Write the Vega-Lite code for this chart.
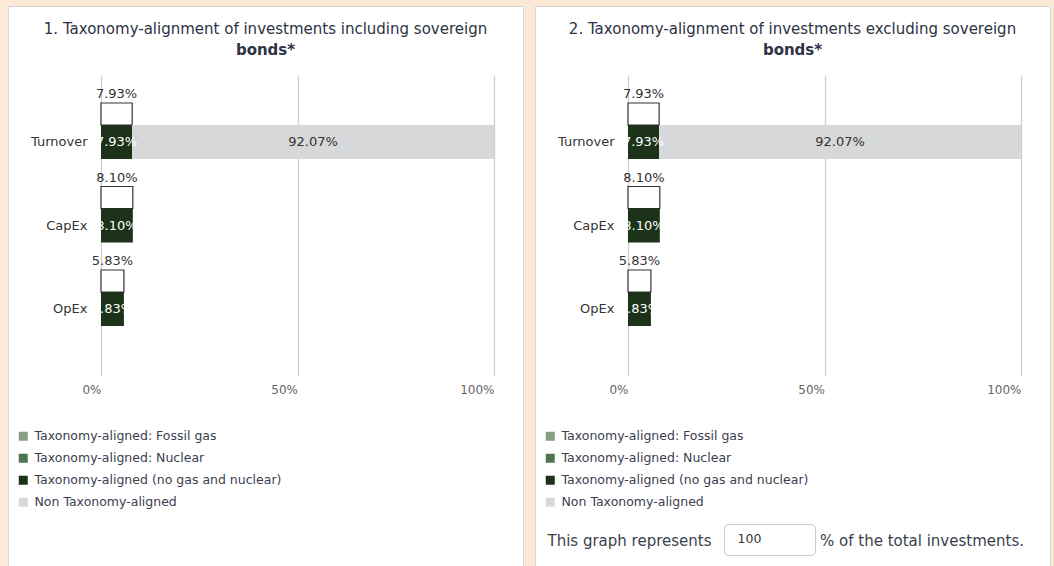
{
  "$schema": "https://vega.github.io/schema/vega-lite/v6.json",
  "background": "#fce9d6",
  "padding": {"left": 7, "top": 5, "right": 3, "bottom": 0},
  "autosize": {"type": "pad"},
  "spacing": 10,
  "datasets": {
    "incl": [
      {"metric": "Turnover", "series": "Taxonomy-aligned (no gas and nuclear)", "share": 0.0793},
      {"metric": "Turnover", "series": "Non Taxonomy-aligned", "share": 0.9207},
      {"metric": "CapEx", "series": "Taxonomy-aligned (no gas and nuclear)", "share": 0.081},
      {"metric": "OpEx", "series": "Taxonomy-aligned (no gas and nuclear)", "share": 0.0583}
    ],
    "excl": [
      {"metric": "Turnover", "series": "Taxonomy-aligned (no gas and nuclear)", "share": 0.0793, "coverage": "100"},
      {"metric": "Turnover", "series": "Non Taxonomy-aligned", "share": 0.9207, "coverage": "100"},
      {"metric": "CapEx", "series": "Taxonomy-aligned (no gas and nuclear)", "share": 0.081, "coverage": "100"},
      {"metric": "OpEx", "series": "Taxonomy-aligned (no gas and nuclear)", "share": 0.0583, "coverage": "100"}
    ]
  },
  "hconcat": [
    {
      "width": 515,
      "height": 560,
      "data": {"name": "incl"},
      "title": {"text": "1. Taxonomy-alignment of investments including sovereign", "subtitle": "bonds*"},
      "transform": [
        {"stack": "share", "groupby": ["metric"], "sort": [{"field": "series", "order": "descending"}], "as": ["v0", "v1"]}
      ],
      "encoding": {
        "y": {
          "field": "metric", "type": "nominal", "sort": ["Turnover", "CapEx", "OpEx"],
          "scale": {"range": [69, 370], "paddingInner": 0, "paddingOuter": 0.302},
          "axis": {"offset": -93, "domain": false, "ticks": false, "tickSize": 0, "grid": false, "labelPadding": 14, "labelFontSize": 13, "labelColor": "#333333", "title": null}
        }
      },
      "layer": [
        {
          "transform": [{"filter": "datum.series === 'Taxonomy-aligned (no gas and nuclear)'"}],
          "mark": {"type": "bar", "fill": "#ffffff", "stroke": "#333333", "strokeWidth": 1.2, "height": 22, "yOffset": -28},
          "encoding": {
            "x": {
              "field": "v0", "type": "quantitative",
              "scale": {"domain": [0, 1], "range": [93, 486], "nice": false},
              "axis": {"orient": "top", "offset": -383, "values": [0, 0.5, 1], "format": "%", "grid": true, "gridColor": "#cfcfcf", "gridWidth": 1.3, "domain": false, "ticks": false, "tickSize": 0, "labelPadding": 0, "labelBaseline": "middle", "labelAlign": "right", "labelFlush": false, "labelFontSize": 12, "labelColor": "#666666", "title": null}
            },
            "x2": {"field": "v1"}
          }
        },
        {
          "mark": {"type": "bar", "height": 34},
          "encoding": {
            "x": {
              "field": "v0", "type": "quantitative",
              "scale": {"domain": [0, 1], "range": [93, 486], "nice": false},
              "axis": {"orient": "top", "offset": -383, "values": [0, 0.5, 1], "format": "%", "grid": true, "gridColor": "#cfcfcf", "gridWidth": 1.3, "domain": false, "ticks": false, "tickSize": 0, "labelPadding": 0, "labelBaseline": "middle", "labelAlign": "right", "labelFlush": false, "labelFontSize": 12, "labelColor": "#666666", "title": null}
            },
            "x2": {"field": "v1"},
            "color": {
              "field": "series", "type": "nominal",
              "scale": {
                "domain": ["Taxonomy-aligned: Fossil gas", "Taxonomy-aligned: Nuclear", "Taxonomy-aligned (no gas and nuclear)", "Non Taxonomy-aligned"],
                "range": ["#889c86", "#4c7550", "#1c3319", "#d7d8da"]
              },
              "legend": {"orient": "none", "legendX": 9, "legendY": 424, "direction": "vertical", "title": null, "symbolType": "square", "symbolSize": 81, "symbolStrokeWidth": 0, "labelFontSize": 12.5, "labelColor": "#3b4050", "labelOffset": 5, "rowPadding": 9, "labelLimit": 400, "padding": 0}
            }
          }
        },
        {
          "mark": {"type": "text", "fontSize": 13, "baseline": "middle"},
          "encoding": {
            "x": {
              "field": "share", "type": "quantitative", "stack": "zero", "bandPosition": 0.5,
              "scale": {"domain": [0, 1], "range": [93, 486], "nice": false},
              "axis": {"orient": "top", "offset": -383, "values": [0, 0.5, 1], "format": "%", "grid": true, "gridColor": "#cfcfcf", "gridWidth": 1.3, "domain": false, "ticks": false, "tickSize": 0, "labelPadding": 0, "labelBaseline": "middle", "labelAlign": "right", "labelFlush": false, "labelFontSize": 12, "labelColor": "#666666", "title": null}
            },
            "detail": {"field": "series"},
            "order": {"field": "series", "sort": "descending"},
            "text": {"field": "share", "type": "quantitative", "format": ".2%"},
            "color": {"condition": {"test": "datum.series === 'Non Taxonomy-aligned'", "value": "#333333"}, "value": "#ffffff"}
          }
        },
        {
          "transform": [{"filter": "datum.series === 'Taxonomy-aligned (no gas and nuclear)'"}],
          "mark": {"type": "text", "fontSize": 13, "baseline": "alphabetic", "yOffset": -44, "color": "#333333"},
          "encoding": {
            "x": {
              "field": "share", "type": "quantitative", "stack": "zero", "bandPosition": 0.5,
              "scale": {"domain": [0, 1], "range": [93, 486], "nice": false},
              "axis": {"orient": "top", "offset": -383, "values": [0, 0.5, 1], "format": "%", "grid": true, "gridColor": "#cfcfcf", "gridWidth": 1.3, "domain": false, "ticks": false, "tickSize": 0, "labelPadding": 0, "labelBaseline": "middle", "labelAlign": "right", "labelFlush": false, "labelFontSize": 12, "labelColor": "#666666", "title": null}
            },
            "detail": {"field": "series"},
            "text": {"field": "share", "type": "quantitative", "format": ".2%"}
          }
        }
      ]
    },
    {
      "width": 515,
      "height": 560,
      "data": {"name": "excl"},
      "title": {"text": "2. Taxonomy-alignment of investments excluding sovereign", "subtitle": "bonds*"},
      "transform": [
        {"stack": "share", "groupby": ["metric"], "sort": [{"field": "series", "order": "descending"}], "as": ["v0", "v1"]}
      ],
      "encoding": {
        "y": {
          "field": "metric", "type": "nominal", "sort": ["Turnover", "CapEx", "OpEx"],
          "scale": {"range": [69, 370], "paddingInner": 0, "paddingOuter": 0.302},
          "axis": {"offset": -93, "domain": false, "ticks": false, "tickSize": 0, "grid": false, "labelPadding": 14, "labelFontSize": 13, "labelColor": "#333333", "title": "% of the total investments.", "titleX": 191.5, "titleY": 539, "titleAngle": 0, "titleAlign": "left", "titleBaseline": "alphabetic", "titleFontSize": 15, "titleFontWeight": "normal", "titleColor": "#3a3f4d"}
        }
      },
      "layer": [
        {
          "transform": [{"filter": "datum.series === 'Taxonomy-aligned (no gas and nuclear)'"}],
          "mark": {"type": "bar", "fill": "#ffffff", "stroke": "#333333", "strokeWidth": 1.2, "height": 22, "yOffset": -28},
          "encoding": {
            "x": {
              "field": "v0", "type": "quantitative",
              "scale": {"domain": [0, 1], "range": [93, 486], "nice": false},
              "axis": {"orient": "top", "offset": -383, "values": [0, 0.5, 1], "format": "%", "grid": true, "gridColor": "#cfcfcf", "gridWidth": 1.3, "domain": false, "ticks": false, "tickSize": 0, "labelPadding": 0, "labelBaseline": "middle", "labelAlign": "right", "labelFlush": false, "labelFontSize": 12, "labelColor": "#666666", "title": "This graph represents", "titleX": 12, "titleY": 156, "titleAngle": 0, "titleAlign": "left", "titleBaseline": "alphabetic", "titleFontSize": 15, "titleFontWeight": "normal", "titleColor": "#3a3f4d"}
            },
            "x2": {"field": "v1"},
            "strokeDash": {
              "field": "coverage", "type": "nominal",
              "legend": {"orient": "none", "legendX": 189, "legendY": 518, "title": "\u00a0", "titleOrient": "right", "titlePadding": 45, "titleFontSize": 12.5, "fillColor": "#ffffff", "strokeColor": "#c9c9c9", "cornerRadius": 4, "padding": 9, "symbolType": "square", "symbolSize": 16, "symbolOpacity": 0, "symbolStrokeWidth": 0, "labelOffset": -8, "labelFontSize": 12.5, "labelColor": "#333333"}
            }
          }
        },
        {
          "mark": {"type": "bar", "height": 34},
          "encoding": {
            "x": {
              "field": "v0", "type": "quantitative",
              "scale": {"domain": [0, 1], "range": [93, 486], "nice": false},
              "axis": {"orient": "top", "offset": -383, "values": [0, 0.5, 1], "format": "%", "grid": true, "gridColor": "#cfcfcf", "gridWidth": 1.3, "domain": false, "ticks": false, "tickSize": 0, "labelPadding": 0, "labelBaseline": "middle", "labelAlign": "right", "labelFlush": false, "labelFontSize": 12, "labelColor": "#666666", "title": "This graph represents", "titleX": 12, "titleY": 156, "titleAngle": 0, "titleAlign": "left", "titleBaseline": "alphabetic", "titleFontSize": 15, "titleFontWeight": "normal", "titleColor": "#3a3f4d"}
            },
            "x2": {"field": "v1"},
            "color": {
              "field": "series", "type": "nominal",
              "scale": {
                "domain": ["Taxonomy-aligned: Fossil gas", "Taxonomy-aligned: Nuclear", "Taxonomy-aligned (no gas and nuclear)", "Non Taxonomy-aligned"],
                "range": ["#889c86", "#4c7550", "#1c3319", "#d7d8da"]
              },
              "legend": {"orient": "none", "legendX": 9, "legendY": 424, "direction": "vertical", "title": null, "symbolType": "square", "symbolSize": 81, "symbolStrokeWidth": 0, "labelFontSize": 12.5, "labelColor": "#3b4050", "labelOffset": 5, "rowPadding": 9, "labelLimit": 400, "padding": 0}
            }
          }
        },
        {
          "mark": {"type": "text", "fontSize": 13, "baseline": "middle"},
          "encoding": {
            "x": {
              "field": "share", "type": "quantitative", "stack": "zero", "bandPosition": 0.5,
              "scale": {"domain": [0, 1], "range": [93, 486], "nice": false},
              "axis": {"orient": "top", "offset": -383, "values": [0, 0.5, 1], "format": "%", "grid": true, "gridColor": "#cfcfcf", "gridWidth": 1.3, "domain": false, "ticks": false, "tickSize": 0, "labelPadding": 0, "labelBaseline": "middle", "labelAlign": "right", "labelFlush": false, "labelFontSize": 12, "labelColor": "#666666", "title": "This graph represents", "titleX": 12, "titleY": 156, "titleAngle": 0, "titleAlign": "left", "titleBaseline": "alphabetic", "titleFontSize": 15, "titleFontWeight": "normal", "titleColor": "#3a3f4d"}
            },
            "detail": {"field": "series"},
            "order": {"field": "series", "sort": "descending"},
            "text": {"field": "share", "type": "quantitative", "format": ".2%"},
            "color": {"condition": {"test": "datum.series === 'Non Taxonomy-aligned'", "value": "#333333"}, "value": "#ffffff"}
          }
        },
        {
          "transform": [{"filter": "datum.series === 'Taxonomy-aligned (no gas and nuclear)'"}],
          "mark": {"type": "text", "fontSize": 13, "baseline": "alphabetic", "yOffset": -44, "color": "#333333"},
          "encoding": {
            "x": {
              "field": "share", "type": "quantitative", "stack": "zero", "bandPosition": 0.5,
              "scale": {"domain": [0, 1], "range": [93, 486], "nice": false},
              "axis": {"orient": "top", "offset": -383, "values": [0, 0.5, 1], "format": "%", "grid": true, "gridColor": "#cfcfcf", "gridWidth": 1.3, "domain": false, "ticks": false, "tickSize": 0, "labelPadding": 0, "labelBaseline": "middle", "labelAlign": "right", "labelFlush": false, "labelFontSize": 12, "labelColor": "#666666", "title": "This graph represents", "titleX": 12, "titleY": 156, "titleAngle": 0, "titleAlign": "left", "titleBaseline": "alphabetic", "titleFontSize": 15, "titleFontWeight": "normal", "titleColor": "#3a3f4d"}
            },
            "detail": {"field": "series"},
            "text": {"field": "share", "type": "quantitative", "format": ".2%"}
          }
        }
      ]
    }
  ],
  "resolve": {"scale": {"color": "independent", "strokeDash": "independent"}},
  "config": {
    "font": "DejaVu Sans",
    "view": {"fill": "#ffffff", "stroke": "#d6d6d6", "strokeWidth": 1},
    "title": {"fontSize": 15, "fontWeight": "normal", "color": "#2e3245", "subtitleFontSize": 15, "subtitleFontWeight": "bold", "subtitleColor": "#2e3245", "subtitlePadding": 6, "offset": -52, "anchor": "middle", "frame": "group"}
  }
}
